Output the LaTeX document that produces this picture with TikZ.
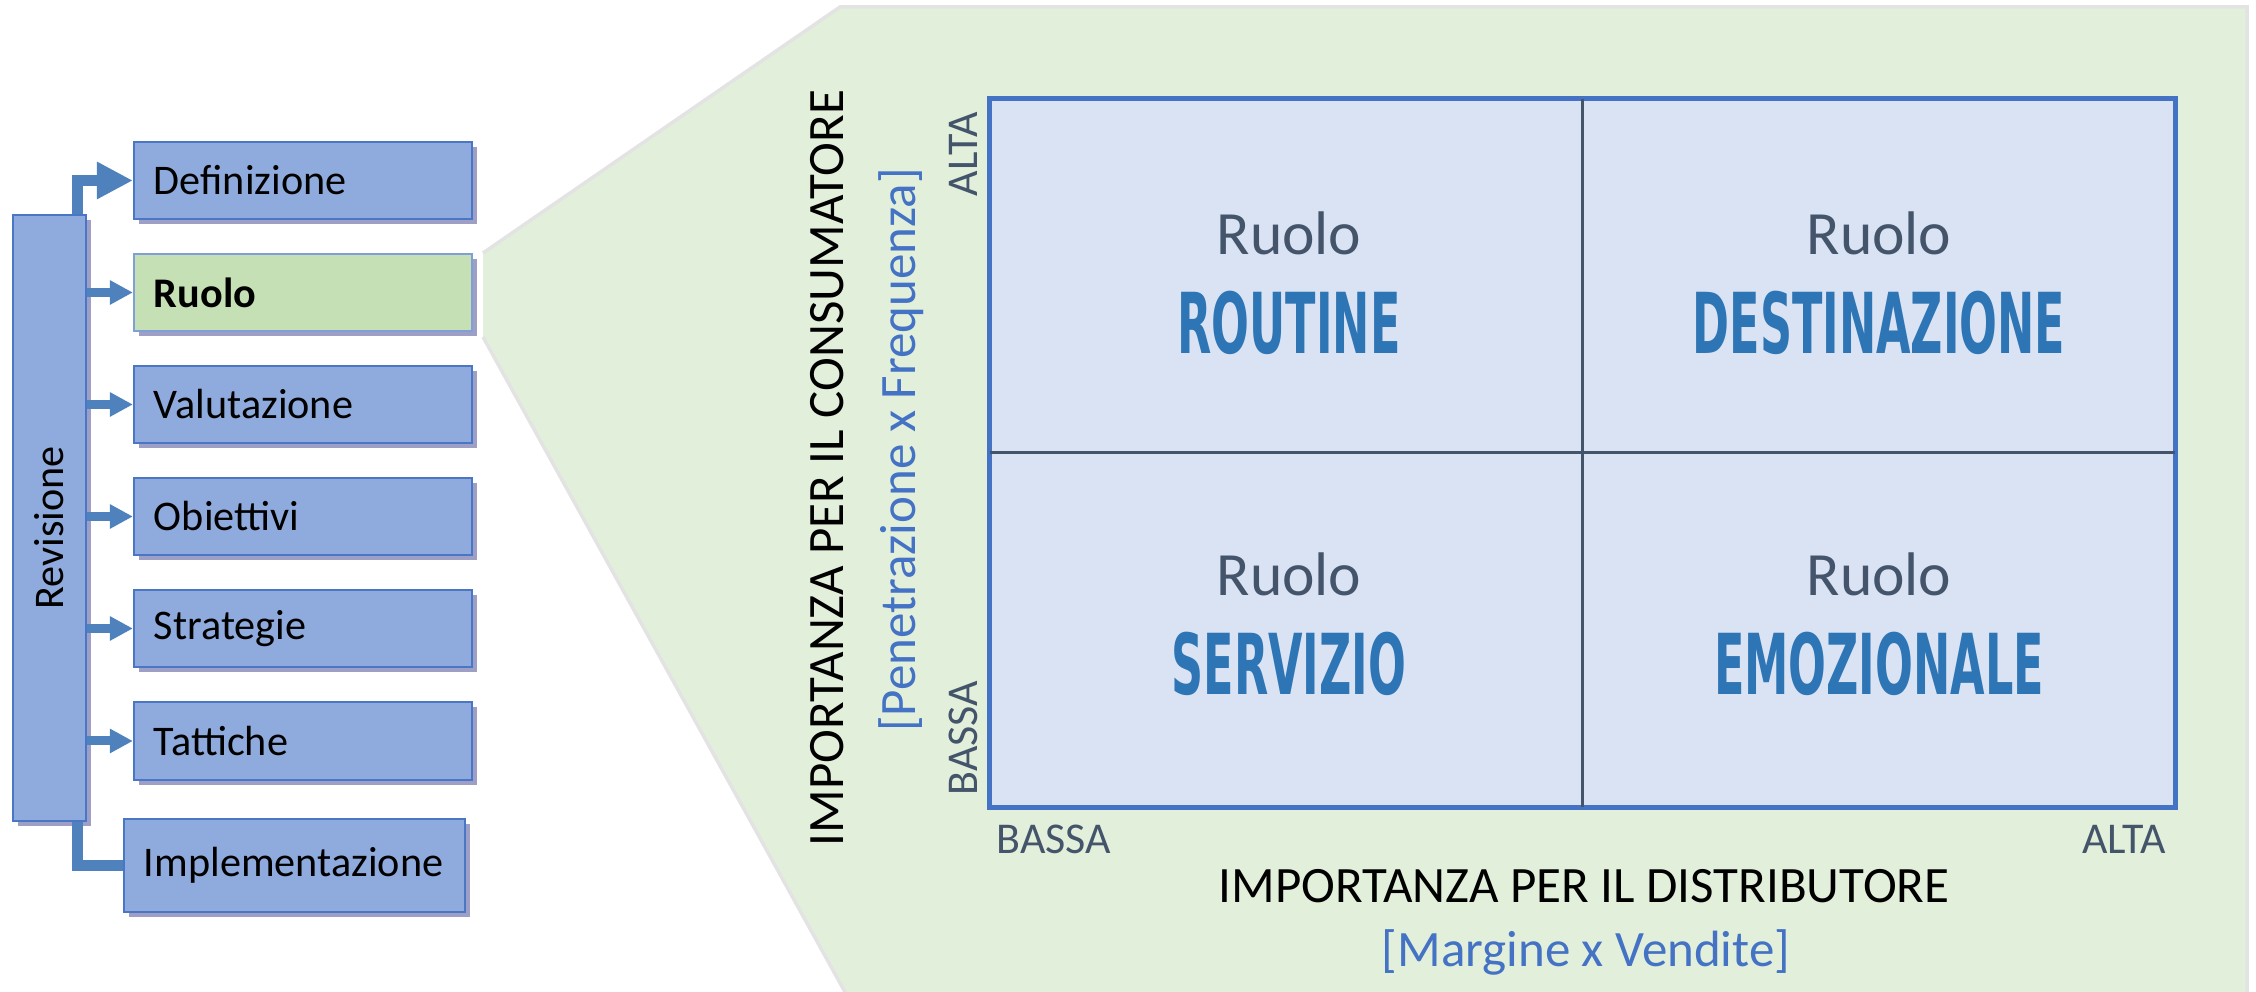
\documentclass[tikz,border=0pt]{standalone}
\usepackage{fontspec}
\usepackage{graphicx}
\setmainfont{Carlito}
\newfontfamily\headfont{DejaVu Sans}
\usetikzlibrary{arrows.meta,shadows}

\definecolor{boxblue}{HTML}{8FAADC}
\definecolor{boxedge}{HTML}{4A76C6}
\definecolor{boxgreen}{HTML}{C5E0B4}
\definecolor{arrowblue}{HTML}{4F81BD}
\definecolor{shadowblue}{HTML}{3B3F8F}
\definecolor{panelgreen}{HTML}{E2EFDA}
\definecolor{panelgray}{HTML}{E3E3E3}
\definecolor{matfill}{HTML}{DAE3F3}
\definecolor{matedge}{HTML}{4472C4}
\definecolor{slate}{HTML}{44546A}
\definecolor{rolehead}{HTML}{2E75B6}
\definecolor{subblue}{HTML}{4472C4}

\tikzset{
  stepbox/.style={draw=boxedge, line width=0.02cm, fill=boxblue,
    text width=2.98cm, align=left, inner xsep=0.2cm, minimum height=0.77cm,
    font=\fontsize{12}{14}\selectfont,
    drop shadow={shadow xshift=0.05cm, shadow yshift=-0.05cm, fill=shadowblue, opacity=0.5}},
  link/.style={draw=arrowblue, line width=0.09cm, -{Triangle[length=0.23cm,width=0.23cm]}},
  biglink/.style={draw=arrowblue, line width=0.11cm, -{Triangle[length=0.36cm,width=0.35cm]}},
  divider/.style={draw=slate, line width=0.03cm, shorten >=0.025cm, shorten <=0.025cm},
  axistitle/.style={inner sep=0, font=\fontsize{14.5}{17}\selectfont},
  axissub/.style={inner sep=0, text=subblue, font=\fontsize{14.5}{17}\selectfont},
  level/.style={inner sep=0, text=slate, font=\fontsize{12.5}{15}\selectfont},
  rolesmall/.style={inner sep=0, text=slate, font=\fontsize{17.5}{20}\selectfont},
  rolebig/.style={inner sep=0, text=rolehead, font=\headfont\bfseries\fontsize{23.9}{28}\selectfont}
}

\begin{document}
\begin{tikzpicture}[x=0.01cm, y=-0.01cm]
  \useasboundingbox (0,0) rectangle (2256,992);

  % pannello di zoom
  \fill[panelgreen] (483,253) -- (840,7) -- (2247,7) -- (2247,992) -- (845,992) -- (483,337) -- cycle;
  \draw[panelgray, line width=0.035cm] (483,253) -- (840,7) -- (2247,7) -- (2247,992);
  \draw[panelgray, line width=0.035cm] (483,337) -- (845,992);

  % fasi del processo
  \node[stepbox, text width=0.33cm, minimum height=6.06cm, inner xsep=0.2cm] (rev) at (49.5,518) {};
  \node[font=\fontsize{12}{14}\selectfont, rotate=90] (revlbl) at (49.5,528) {Revisione};
  \node[stepbox] (defin) at (303,180.5) {Definizione};
  \node[stepbox, fill=boxgreen, draw=boxedge!70, font=\fontsize{12}{14}\selectfont\bfseries] (ruolo) at (303,292.5) {Ruolo};
  \node[stepbox] (valut) at (303,404.5) {Valutazione};
  \node[stepbox] (obiet) at (303,516.5) {Obiettivi};
  \node[stepbox] (strat) at (303,628.5) {Strategie};
  \node[stepbox] (tatt) at (303,741) {Tattiche};
  \node[stepbox, text width=3.01cm, minimum height=0.93cm] (impl) at (294.5,865.5) {Implementazione};

  % frecce
  \draw[biglink] ([xshift=-0.10cm]rev.north east) |- (defin.west);
  \foreach \n in {ruolo,valut,obiet,strat,tatt}
    \draw[link] (rev.east |- \n.west) -- (\n.west);
  \draw[draw=arrowblue, line width=0.11cm] ([xshift=-0.10cm]rev.south east) |- (impl.west);

  % matrice dei ruoli
  \node[draw=matedge, fill=matfill, line width=0.05cm, minimum width=11.85cm, minimum height=7.08cm, inner sep=0] (mat) at (1582.5,453) {};
  \draw[divider] (mat.north) -- (mat.south);
  \draw[divider] (mat.west) -- (mat.east);

  \node[rolesmall, anchor=base] (q1a) at (1289,255) {Ruolo};
  \node[rolebig, anchor=base] (q1b) at (1289,354) {\scalebox{0.53}[1]{ROUTINE}};
  \node[rolesmall, anchor=base] (q2a) at (1879,255) {Ruolo};
  \node[rolebig, anchor=base] (q2b) at (1879,354) {\scalebox{0.53}[1]{DESTINAZIONE}};
  \node[rolesmall, anchor=base] (q3a) at (1289,596) {Ruolo};
  \node[rolebig, anchor=base] (q3b) at (1289,695) {\scalebox{0.53}[1]{SERVIZIO}};
  \node[rolesmall, anchor=base] (q4a) at (1879,596) {Ruolo};
  \node[rolebig, anchor=base] (q4b) at (1879,695) {\scalebox{0.53}[1]{EMOZIONALE}};

  % assi
  \node[axistitle, rotate=90, anchor=base] (ytitle) at (843,468) {IMPORTANZA PER IL CONSUMATORE};
  \node[axissub, rotate=90, anchor=base] (ysub) at (915,450) {[Penetrazione x Frequenza]};
  \node[level, rotate=90, anchor=base] (yhigh) at (977,154) {ALTA};
  \node[level, rotate=90, anchor=base] (ylow) at (977,738) {BASSA};
  \node[level, anchor=base west] (xlow) at (996,854) {BASSA};
  \node[level, anchor=base east] (xhigh) at (2167,854) {ALTA};
  \node[axistitle, anchor=base] (xtitle) at (1584,903) {IMPORTANZA PER IL DISTRIBUTORE};
  \node[axissub, anchor=base] (xsub) at (1586,967) {[Margine x Vendite]};
\end{tikzpicture}
\end{document}
